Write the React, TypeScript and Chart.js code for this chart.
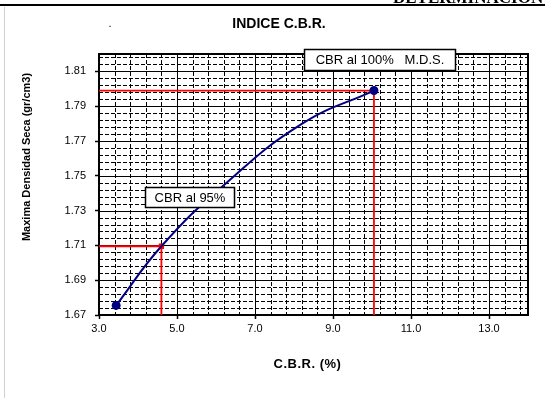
import React, { useEffect, useRef } from "react";
import { Chart, registerables } from "chart.js";

Chart.register(...registerables);

// Data
const cbrX = [3.44, 4.6, 6.17, 8.19, 10.05];
const densY = [1.6755, 1.7095, 1.744, 1.7797, 1.799];
const cbr95 = 4.6;
const dens95 = 1.7095;
const cbr100 = 10.05;
const dens100 = 1.799;
const xTicks = [3, 5, 7, 9, 11, 13];
const yTicks = [1.67, 1.69, 1.71, 1.73, 1.75, 1.77, 1.79, 1.81];
const X_MIN = 3;
const X_MAX = 14;
const Y_MIN = 1.67;
const Y_MAX = 1.82;
const X_MAJOR = 2;
const Y_MAJOR = 0.02;
const MINOR_DIV = 5;

const FONT = '"Liberation Sans", Arial, sans-serif';

const gridPlugin = {
  id: "gridPlugin",
  beforeDatasetsDraw(chart: any) {
    const { ctx, chartArea: a, scales } = chart;
    const xs = scales.x;
    const ys = scales.y;
    ctx.save();
    ctx.strokeStyle = "#000";
    ctx.lineWidth = 1;
    const nx = Math.round(((X_MAX - X_MIN) / X_MAJOR) * MINOR_DIV);
    for (let i = 1; i < nx; i++) {
      const v = X_MIN + (i * X_MAJOR) / MINOR_DIV;
      const px = Math.round(xs.getPixelForValue(v)) + 0.5;
      ctx.setLineDash(i % MINOR_DIV === 0 ? [] : [4, 2]);
      ctx.beginPath();
      ctx.moveTo(px, a.top);
      ctx.lineTo(px, a.bottom);
      ctx.stroke();
    }
    const ny = Math.round(((Y_MAX - Y_MIN) / Y_MAJOR) * MINOR_DIV);
    for (let i = 1; i < ny; i++) {
      const v = Y_MIN + (i * Y_MAJOR) / MINOR_DIV;
      const py = Math.round(ys.getPixelForValue(v)) + 0.5;
      ctx.setLineDash(i % MINOR_DIV === 0 ? [] : [4, 2]);
      ctx.beginPath();
      ctx.moveTo(a.left, py);
      ctx.lineTo(a.right, py);
      ctx.stroke();
    }
    ctx.setLineDash([]);
    ctx.lineWidth = 2;
    ctx.strokeRect(a.left, a.top, a.right - a.left, a.bottom - a.top);
    ctx.restore();
  },
  afterDraw(chart: any) {
    const { ctx, chartArea: a } = chart;
    ctx.save();
    ctx.fillStyle = "#000";
    ctx.font = 'bold 17px "Liberation Serif", "DejaVu Serif", serif';
    ctx.textAlign = "left";
    ctx.textBaseline = "alphabetic";
    ctx.fillText("DETERMINACIÓN", 393, 3);
    ctx.fillRect(0, 4, 545, 2);
    ctx.fillStyle = "#d0d0d0";
    ctx.fillRect(4, 7, 1, 398);

    ctx.fillStyle = "#000";
    ctx.textAlign = "center";
    ctx.textBaseline = "middle";
    ctx.font = "bold 14px " + FONT;
    ctx.fillText("INDICE C.B.R.", 279, 24);
    ctx.font = "11px " + FONT;
    ctx.fillText(".", 110, 24);

    ctx.font = "bold 13px " + FONT;
    (ctx as any).letterSpacing = "0.5px";
    ctx.fillText("C.B.R. (%)", (a.left + a.right) / 2 - 6, 364);
    (ctx as any).letterSpacing = "0px";

    ctx.save();
    ctx.translate(27, 157);
    ctx.rotate(-Math.PI / 2);
    ctx.font = "bold 11px " + FONT;
    ctx.fillText("Maxima Densidad Seca (gr/cm3)", 0, 0);
    ctx.restore();

    const box = (text: string, x: number, y: number, w: number, h: number) => {
      ctx.fillStyle = "#fff";
      ctx.fillRect(x, y, w, h);
      ctx.strokeStyle = "#000";
      ctx.lineWidth = 1.5;
      ctx.strokeRect(x, y, w, h);
      ctx.fillStyle = "#000";
      ctx.font = "13px " + FONT;
      ctx.textAlign = "center";
      ctx.textBaseline = "middle";
      ctx.fillText(text, x + w / 2, y + h / 2 + 0.5);
    };
    box("CBR al 100%   M.D.S.", 304.5, 49.5, 151, 21);
    box("CBR al 95%", 145.5, 187.5, 89, 20);
    ctx.restore();
  },
};

export default function App() {
  const ref = useRef<HTMLCanvasElement>(null);
  useEffect(() => {
    document.body.style.margin = "0";
    const canvas = ref.current!;
    const chart = new Chart(canvas, {
      type: "scatter",
      data: {
        datasets: [
          {
            data: cbrX.map((x, i) => ({ x, y: densY[i] })),
            showLine: true,
            borderColor: "#000080",
            backgroundColor: "#000080",
            borderWidth: 2,
            tension: 0.45,
            pointRadius: (c: any) =>
              c.dataIndex === 0 || c.dataIndex === cbrX.length - 1 ? 3.5 : 0,
            pointStyle: "circle",
          } as any,
          {
            data: [
              { x: X_MIN, y: dens95 },
              { x: cbr95, y: dens95 },
              { x: cbr95, y: Y_MIN },
            ],
            showLine: true,
            borderColor: "#ff0000",
            backgroundColor: "#ff0000",
            borderWidth: 1.8,
            pointRadius: (c: any) => (c.dataIndex === 1 ? 2.5 : 0),
            pointStyle: "rect",
          } as any,
          {
            data: [
              { x: X_MIN, y: dens100 },
              { x: cbr100, y: dens100 },
              { x: cbr100, y: Y_MIN },
            ],
            showLine: true,
            borderColor: "#ff0000",
            backgroundColor: "#ff0000",
            borderWidth: 1.8,
            pointRadius: 0,
          } as any,
        ],
      },
      options: {
        animation: false,
        responsive: false,
        devicePixelRatio: 1,
        layout: { padding: { left: 0, right: 17, top: 54, bottom: 0 } },
        plugins: {
          legend: { display: false },
          tooltip: { enabled: false },
          title: { display: false },
        },
        scales: {
          x: {
            type: "linear",
            min: X_MIN,
            max: X_MAX,
            afterBuildTicks: (s: any) => {
              s.ticks = xTicks.map((v) => ({ value: v }));
            },
            afterFit: (s: any) => {
              s.height = 83;
            },
            ticks: {
              color: "#000",
              font: { family: FONT, size: 11 },
              padding: 3,
              maxRotation: 0,
              autoSkip: false,
              callback: (v: any) => Number(v).toFixed(1),
            },
            grid: {
              display: true,
              drawOnChartArea: false,
              drawTicks: true,
              tickLength: 4,
              color: "#000",
              tickWidth: 1.5,
            },
            border: { display: false },
          },
          y: {
            type: "linear",
            min: Y_MIN,
            max: Y_MAX,
            afterBuildTicks: (s: any) => {
              s.ticks = yTicks.map((v) => ({ value: v }));
            },
            afterFit: (s: any) => {
              s.width = 99;
            },
            ticks: {
              color: "#000",
              font: { family: FONT, size: 11 },
              padding: 9,
              autoSkip: false,
              callback: (v: any) => Number(v).toFixed(2),
            },
            grid: {
              display: true,
              drawOnChartArea: false,
              drawTicks: true,
              tickLength: 4,
              color: "#000",
              tickWidth: 1.5,
            },
            border: { display: false },
          },
        },
      } as any,
      plugins: [gridPlugin],
    });
    return () => chart.destroy();
  }, []);
  return (
    <canvas
      ref={ref}
      width={545}
      height={398}
      style={{ position: "fixed", left: 0, top: 0, width: 545, height: 398, background: "#fff" }}
    />
  );
}
